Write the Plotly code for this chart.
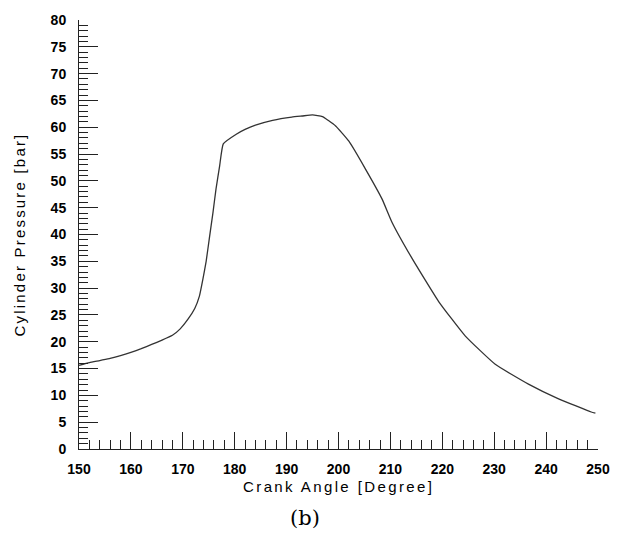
import plotly.graph_objects as go

crank_angle = [150, 152, 154, 156, 158, 160, 162, 164, 166, 168, 169.5, 171, 172.3, 173.2,
               173.9, 174.5, 175.1, 175.8, 176.4, 177.1, 177.8, 180.3, 182, 184, 187.3, 191,
               193, 195, 196.9, 198, 199.5, 202, 205.2, 208.4, 210.3, 214.2, 219.3, 224.4,
               230.2, 236.6, 242.3, 248.7, 249.5]
pressure = [15.6, 16.1, 16.5, 16.9, 17.4, 18.0, 18.7, 19.5, 20.3, 21.2, 22.4, 24.2, 26.2, 28.5,
            31.8, 35.0, 39.2, 44.0, 48.5, 52.8, 56.9, 58.7, 59.6, 60.4, 61.3, 61.9,
            62.1, 62.3, 62.0, 61.3, 60.2, 57.4, 52.2, 46.6, 42.3, 35.5, 27.5, 21.1,
            15.8, 12.1, 9.4, 6.9, 6.7]

x_ticks = list(range(150, 251, 10))
y_ticks = list(range(0, 81, 5))

fig = go.Figure()
fig.add_trace(go.Scatter(x=crank_angle, y=pressure, mode="lines",
                         line=dict(color="#333333", width=1.3, shape="spline", smoothing=0.4),
                         showlegend=False))

font_family = "Liberation Sans, Arial, sans-serif"
fig.update_layout(
    width=622, height=537,
    margin=dict(l=79, r=22, t=16, b=88),
    paper_bgcolor="white", plot_bgcolor="white",
    font=dict(family=font_family, color="black"),
)
fig.update_xaxes(
    range=[150, 250], tickvals=x_ticks, ticks="inside", ticklen=17, tickwidth=1,
    tickcolor="#222222", showline=True, linecolor="#222222", linewidth=1,
    showgrid=False, zeroline=False, ticklabelstandoff=7,
    tickfont=dict(size=14, weight="bold", family=font_family),
    minor=dict(ticks="inside", ticklen=9, dtick=2, tickcolor="#222222", showgrid=False),
)
fig.update_yaxes(
    range=[0, 80], tickvals=y_ticks, ticks="inside", ticklen=19, tickwidth=1,
    tickcolor="#222222", showline=True, linecolor="#222222", linewidth=1,
    showgrid=False, zeroline=False, ticklabelstandoff=9,
    tickfont=dict(size=14, weight="bold", family=font_family),
    minor=dict(ticks="inside", ticklen=9, dtick=1, tickcolor="#222222", showgrid=False),
)
fig.add_annotation(text='<span style="letter-spacing:2.4px">Crank Angle [Degree]</span>',
                   xref="paper", yref="paper", x=0.5, y=0,
                   yanchor="middle", yshift=-37, showarrow=False,
                   font=dict(size=15, family=font_family))
fig.add_annotation(text='<span style="letter-spacing:2.2px">Cylinder Pressure [bar]</span>',
                   xref="paper", yref="paper", x=0, y=0.5,
                   xanchor="center", xshift=-60, textangle=-90, showarrow=False,
                   font=dict(size=15, family=font_family))
fig.add_annotation(text="(b)", xref="paper", yref="paper", x=0.4357, y=0,
                   yanchor="middle", yshift=-69, showarrow=False,
                   font=dict(size=21, family="DejaVu Serif, Liberation Serif, serif"))

fig.write_html("out.html")
